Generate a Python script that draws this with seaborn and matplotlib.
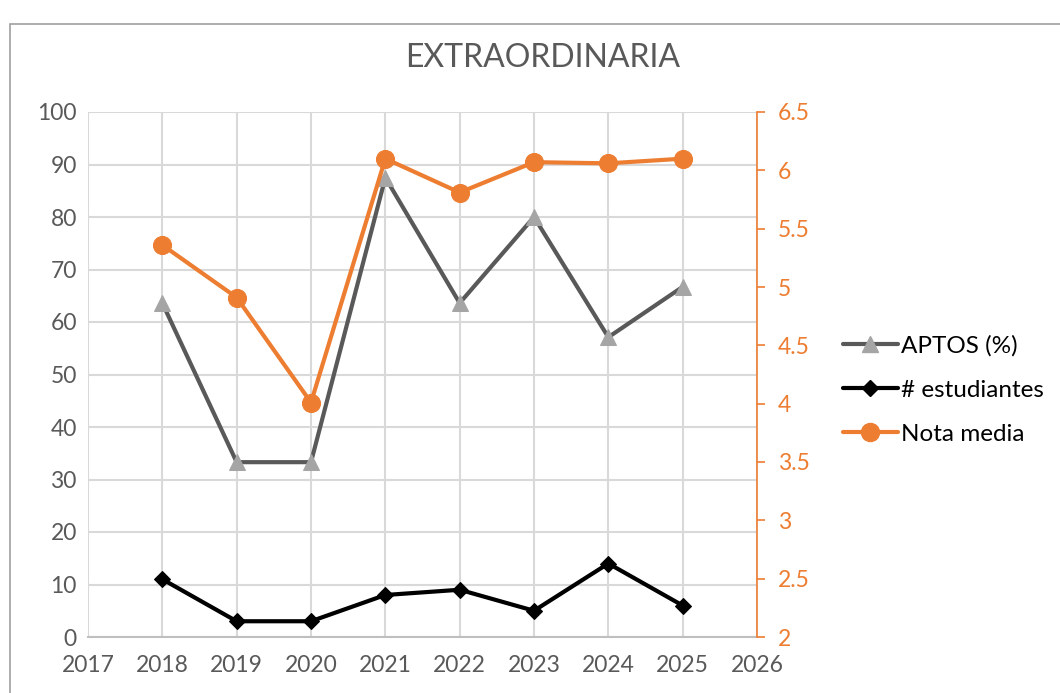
import numpy as np
import matplotlib.pyplot as plt
import pandas as pd
import seaborn as sns
from matplotlib.patches import Rectangle
from matplotlib.lines import Line2D

# datos
anios = [2018, 2019, 2020, 2021, 2022, 2023, 2024, 2025]
aptos = [63.6, 33.3, 33.3, 87.5, 63.6, 80.0, 57.1, 66.7]
estudiantes = [11, 3, 3, 8, 9, 5, 14, 6]
nota_media = [5.36, 4.91, 4.01, 6.10, 5.81, 6.07, 6.06, 6.10]

gris = '#595959'
gris_claro = '#A5A5A5'
naranja = '#ED7D31'
rejilla = '#D9D9D9'

sns.set_style('white')
plt.rcParams['font.family'] = ['Lato', 'DejaVu Sans']

df = pd.DataFrame({'anio': anios, 'aptos': aptos,
                   'estudiantes': estudiantes, 'nota': nota_media})

fig = plt.figure(figsize=(10.6, 6.93), dpi=100)
ax = fig.add_axes([88 / 1060, 56 / 693, 669 / 1060, 525 / 693])
ax2 = ax.twinx()

# marco del grafico
fig.patches.append(Rectangle((10 / 1060, -0.05), 1.1, (693 - 24) / 693 + 0.05,
                             transform=fig.transFigure, fill=False,
                             edgecolor='#A0A0A0', linewidth=1.2))

sns.lineplot(data=df, x='anio', y='aptos', ax=ax, color=gris, linewidth=3,
             marker='^', markersize=12, markerfacecolor=gris_claro,
             markeredgecolor=gris_claro, zorder=3)
sns.lineplot(data=df, x='anio', y='estudiantes', ax=ax, color='black',
             linewidth=3, marker='D', markersize=8, markerfacecolor='black',
             markeredgecolor='black', zorder=3)
sns.lineplot(data=df, x='anio', y='nota', ax=ax2, color=naranja, linewidth=3,
             marker='o', markersize=13, markerfacecolor=naranja,
             markeredgecolor=naranja, zorder=3)

ax.set_xlim(2017, 2026)
ax.set_ylim(0, 100)
ax2.set_ylim(2, 6.5)
ax.set_xticks(range(2017, 2027))
ax.set_yticks(range(0, 101, 10))
ax2.set_yticks(np.arange(2, 6.51, 0.5))
ax2.set_yticklabels(['2', '2.5', '3', '3.5', '4', '4.5', '5', '5.5', '6', '6.5'])

ax.grid(True, color=rejilla, linewidth=1.5)
ax.set_axisbelow(True)
ax.set_xlabel('')
ax.set_ylabel('')
ax2.set_ylabel('')

for s in ['top', 'left', 'right']:
    ax.spines[s].set_visible(False)
    ax2.spines[s].set_visible(False)
ax.spines['bottom'].set_color('#BFBFBF')
ax.spines['bottom'].set_linewidth(1.5)
ax2.spines['bottom'].set_visible(False)
ax2.spines['right'].set_visible(True)
ax2.spines['right'].set_color(naranja)
ax2.spines['right'].set_linewidth(1.2)

ax.tick_params(axis='y', length=0, labelsize=16.5, labelcolor=gris, pad=8)
ax.tick_params(axis='x', length=0, labelsize=16.5, labelcolor=gris, pad=13)
ax2.tick_params(axis='y', length=6, width=1.2, color=naranja, labelsize=16.5,
                labelcolor=naranja, pad=9)

fig.text(543 / 1060, 1 - 58 / 693, 'EXTRAORDINARIA', ha='center', va='center',
         fontsize=23, color=gris)

handles = [
    Line2D([], [], color=gris, linewidth=3, marker='^', markersize=12,
           markerfacecolor=gris_claro, markeredgecolor=gris_claro),
    Line2D([], [], color='black', linewidth=3, marker='D', markersize=8),
    Line2D([], [], color=naranja, linewidth=3, marker='o', markersize=13),
]
etiquetas = ['APTOS (%)', '# estudiantes', 'Nota media']
fig.legend(handles, etiquetas, loc='center left',
           bbox_to_anchor=(843 / 1060, 1 - 390 / 693), frameon=False,
           fontsize=17.5, labelcolor='black', handlelength=2.25,
           handletextpad=0.15, labelspacing=0.95, borderpad=0,
           borderaxespad=0)

fig.savefig('out.png', dpi=100)
